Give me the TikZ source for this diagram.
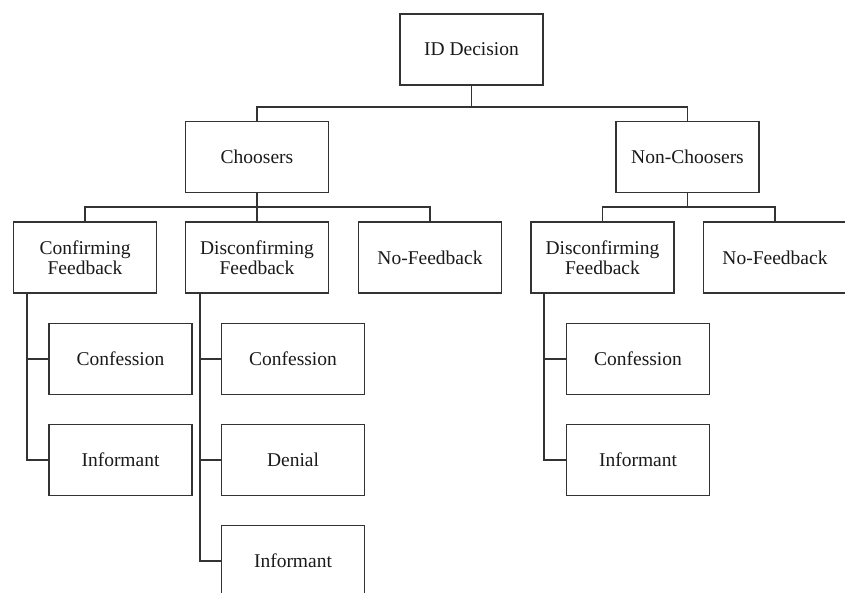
\documentclass[tikz,border=0pt]{standalone}
\usepackage{fontspec}
\setmainfont{Liberation Serif}
\usepackage{tikz}
\usetikzlibrary{positioning,calc}
\usepackage{xcolor}
\definecolor{ln}{HTML}{333333}
\definecolor{tx}{HTML}{1a1a1a}

\begin{document}
\begin{tikzpicture}[
  x=1pt,y=-1pt,
  box/.style={rectangle,draw=ln,line width=1.3pt,fill=white,minimum width=143pt,minimum height=71pt,inner sep=2pt,align=center,text=tx,font=\fontsize{19.5}{20}\selectfont},
  edge/.style={draw=ln,line width=1.3pt}
]
  \useasboundingbox (0,0) rectangle (845,592);

  % Root and first split
  \node[box] (id)     at (471.5,49.5) {ID Decision};
  \node[box] (choose) at (257,157)    {Choosers};
  \node[box] (nonch)  at (687.5,157)  {Non-Choosers};

  % Second row -- feedback groups
  \node[box] (conf)  at (85,257.5)    {Confirming\\Feedback};
  \node[box] (disc)  at (257,257.5)   {Disconfirming\\Feedback};
  \node[box] (nofb)  at (430,257.5)   {No-Feedback};
  \node[box] (ndisc) at (602.5,257.5) {Disconfirming\\Feedback};
  \node[box] (nnofb) at (775,257.5)   {No-Feedback};

  % Leaves
  \node[box] (confcon) at (120.5,359) {Confession};
  \node[box] (confinf) at (120.5,460) {Informant};
  \node[box] (disccon) at (293,359)   {Confession};
  \node[box] (discden) at (293,460)   {Denial};
  \node[box] (discinf) at (293,561)   {Informant};
  \node[box] (ndiscon) at (638,359)   {Confession};
  \node[box] (ndisinf) at (638,460)   {Informant};

  % Junctions
  \coordinate (j0) at (471.5,107);
  \coordinate (j1) at (257,207);
  \coordinate (j2) at (687.5,207);

  % Top split
  \draw[edge] (id) -- (j0);
  \draw[edge] (j0) -| (choose);
  \draw[edge] (j0) -| (nonch);

  % Feedback splits
  \draw[edge] (choose) -- (j1);
  \draw[edge] (j1) -| (conf);
  \draw[edge] (j1) -| (disc);
  \draw[edge] (j1) -| (nofb);
  \draw[edge] (nonch) -- (j2);
  \draw[edge] (j2) -| (ndisc);
  \draw[edge] (j2) -| (nnofb);

  % Spines down to the leaves
  \draw[edge] ([xshift=14pt]conf.south west)  |- (confcon);
  \draw[edge] ([xshift=14pt]conf.south west)  |- (confinf);
  \draw[edge] ([xshift=15pt]disc.south west)  |- (disccon);
  \draw[edge] ([xshift=15pt]disc.south west)  |- (discden);
  \draw[edge] ([xshift=15pt]disc.south west)  |- (discinf);
  \draw[edge] ([xshift=13.5pt]ndisc.south west) |- (ndiscon);
  \draw[edge] ([xshift=13.5pt]ndisc.south west) |- (ndisinf);
\end{tikzpicture}
\end{document}
